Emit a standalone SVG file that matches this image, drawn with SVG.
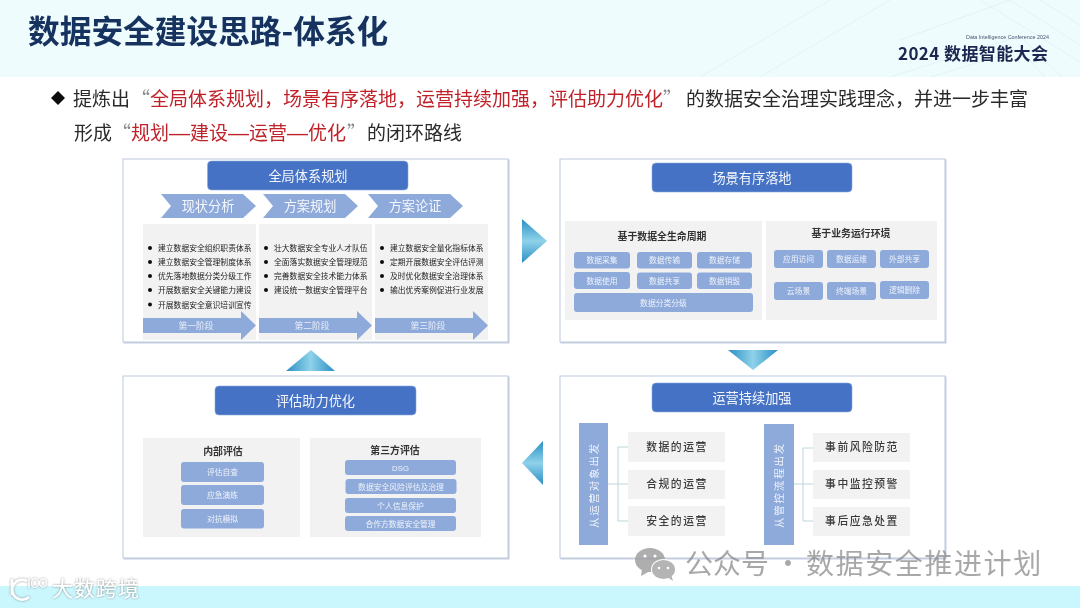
<svg xmlns="http://www.w3.org/2000/svg" width="1080" height="608" viewBox="0 0 1080 608">
<style>
text{font-family:"Noto Sans CJK SC","Noto Sans",sans-serif}
.panel{fill:#fff;stroke:#bcc9e2;stroke-width:1;filter:url(#ps)}
.title{fill:#4472c4;stroke:#8faadc;stroke-width:.6}
.tt{fill:#fff;font-size:13.2px;text-anchor:middle;opacity:.95}
.gray{fill:#f2f2f2}
.chip{fill:#8eaadb}
.ct{fill:#fff;font-size:7.8px;text-anchor:middle;opacity:.85}
.sh{fill:#8eaadb}
.st{fill:#fff;font-size:13.2px;text-anchor:middle;opacity:.9}
.sm{fill:#fff;font-size:8.8px;text-anchor:middle;opacity:.8}
.li{fill:#222;font-size:7.8px}
.dot{fill:#111}
.h{fill:#333;font-size:9.9px;font-weight:700;text-anchor:middle}
.it{fill:#3a3a3a;font-size:10.8px;text-anchor:middle;letter-spacing:1.5px;font-weight:500}
.vt{fill:#fff;font-size:10.4px;text-anchor:middle;letter-spacing:1.9px;opacity:.85}
.line{fill:none;stroke:#bdd6dc;stroke-width:1}
.body{font-size:19px;fill:#2b2b2b}
.red{fill:#c0242c}
.q{fill:#888}
.dash{fill:#c0242c;font-family:"Liberation Sans",sans-serif;font-size:21px}
.bg{fill:none;stroke:#e2f3f7;stroke-width:1}
</style>
<defs>
<filter id="ps" x="-2%" y="-2%" width="105%" height="105%"><feDropShadow dx="1" dy="1" stdDeviation="0.6" flood-color="#7f8fb0" flood-opacity=".45"/></filter>
<filter id="soft" x="0" y="0" width="100%" height="100%"><feGaussianBlur stdDeviation="0.35"/></filter>
<filter id="ws" x="-10%" y="-20%" width="120%" height="140%"><feDropShadow dx="0" dy="0" stdDeviation="1" flood-color="#555" flood-opacity=".7"/></filter>
<linearGradient id="gh" x1="0" x2="1" y1="0" y2="0"><stop offset="0" stop-color="#2a8fc4"/><stop offset=".5" stop-color="#8fd2ea"/><stop offset="1" stop-color="#2a8fc4"/></linearGradient>
<linearGradient id="gv" x1="0" x2="0" y1="0" y2="1"><stop offset="0" stop-color="#2a8fc4"/><stop offset=".5" stop-color="#8fd2ea"/><stop offset="1" stop-color="#2a8fc4"/></linearGradient>
</defs>
<g filter="url(#soft)">
<g id="background">
<rect width="1080" height="608" fill="#fff"/>
<rect width="1080" height="77" fill="#effcfe"/>
<rect y="586" width="1080" height="22" fill="#c9f7fd"/>
<path class="bg" d="M700 77L830 0M760 77L890 0M900 40L1010 0M890 77L1020 36L1062 77M930 77L1020 50L1045 77M1010 0L1080 45M1040 0L1080 25M980 0L1080 62"/>
<text x="28" y="43" font-size="31.7" font-weight="700" fill="#17305f">数据安全建设思路-体系化</text>
<text x="1049" y="39" font-size="5.4" fill="#4a5470" text-anchor="end" style="font-family:'Liberation Sans',sans-serif">Data Intelligence Conference 2024</text>
<text x="898" y="60" font-size="17" font-weight="700" fill="#1b2850" textLength="151" style="letter-spacing:1px">2024 数据智能大会</text>
<path d="M51 98L58 91L65 98L58 105Z" fill="#111"/>
<text y="106" class="body"><tspan x="73">提炼出</tspan><tspan class="q" x="131">“</tspan><tspan class="red" x="150">全局体系规划，场景有序落地，运营持续加强，评估助力优化</tspan><tspan class="q">”</tspan><tspan x="686">的数据安全治理实践理念，并进一步丰富</tspan></text>
<text y="140" class="body"><tspan x="74">形成</tspan><tspan class="q" x="112">“</tspan><tspan class="red" x="131">规划</tspan><tspan class="dash" x="169">—</tspan><tspan class="red" x="190">建设</tspan><tspan class="dash" x="228">—</tspan><tspan class="red" x="249">运营</tspan><tspan class="dash" x="287">—</tspan><tspan class="red" x="308">优化</tspan><tspan class="q" x="347">”</tspan><tspan x="367">的闭环路线</tspan></text>
</g>

<g id="panel-plan">
<rect class="panel" x="123" y="159" width="385" height="183"/>
<rect class="title" x="207.500" y="161" width="200.500" height="29" rx="4"/>
<text class="tt" x="308" y="181">全局体系规划</text>
<path class="sh" d="M161 194H243L256 206L243 218H161L171 206Z"/>
<path class="sh" d="M263 194H345L358 206L345 218H263L273 206Z"/>
<path class="sh" d="M368 194H450L463 206L450 218H368L378 206Z"/>
<text class="st" x="208" y="211">现状分析</text>
<text class="st" x="310" y="211">方案规划</text>
<text class="st" x="415" y="211">方案论证</text>
<rect class="gray" x="143" y="224" width="113" height="116"/>
<rect class="gray" x="259" y="224" width="113" height="116"/>
<rect class="gray" x="375" y="224" width="113" height="116"/>
<g class="dot">
<circle cx="150" cy="248" r="2"/><circle cx="150" cy="262" r="2"/><circle cx="150" cy="276" r="2"/><circle cx="150" cy="290" r="2"/><circle cx="150" cy="304.500" r="2"/>
<circle cx="266" cy="248" r="2"/><circle cx="266" cy="262" r="2"/><circle cx="266" cy="276" r="2"/><circle cx="266" cy="290" r="2"/>
<circle cx="382" cy="248" r="2"/><circle cx="382" cy="262" r="2"/><circle cx="382" cy="276" r="2"/><circle cx="382" cy="290" r="2"/>
</g>
<text class="li" x="158" y="251">建立数据安全组织职责体系</text>
<text class="li" x="158" y="265">建立数据安全管理制度体系</text>
<text class="li" x="158" y="279">优先落地数据分类分级工作</text>
<text class="li" x="158" y="293">开展数据安全关键能力建设</text>
<text class="li" x="158" y="307.500">开展数据安全意识培训宣传</text>
<text class="li" x="274" y="251">壮大数据安全专业人才队伍</text>
<text class="li" x="274" y="265">全面落实数据安全管理规范</text>
<text class="li" x="274" y="279">完善数据安全技术能力体系</text>
<text class="li" x="274" y="293">建设统一数据安全管理平台</text>
<text class="li" x="390" y="251">建立数据安全量化指标体系</text>
<text class="li" x="390" y="265">定期开展数据安全评估评测</text>
<text class="li" x="390" y="279">及时优化数据安全治理体系</text>
<text class="li" x="390" y="293">输出优秀案例促进行业发展</text>
<path class="sh" d="M143 318H241V311L256 325.500L241 340V333H143Z"/>
<path class="sh" d="M259 318H357V311L372 325.500L357 340V333H259Z"/>
<path class="sh" d="M375 318H473V311L488 325.500L473 340V333H375Z"/>
<text class="sm" x="196" y="329">第一阶段</text>
<text class="sm" x="312" y="329">第二阶段</text>
<text class="sm" x="428" y="329">第三阶段</text>
</g>

<g id="panel-scene">
<rect class="panel" x="560" y="159" width="385" height="183"/>
<rect class="title" x="652" y="163" width="200" height="29" rx="4"/>
<text class="tt" x="752" y="183">场景有序落地</text>
<rect class="gray" x="565" y="221" width="197" height="99"/>
<rect class="gray" x="766" y="221" width="171" height="99"/>
<text class="h" x="662" y="240">基于数据全生命周期</text>
<text class="h" x="851" y="237">基于业务运行环境</text>
<rect class="chip" x="574" y="252" width="56" height="16.500" rx="3"/><text class="ct" x="602" y="263">数据采集</text>
<rect class="chip" x="637" y="252" width="55" height="16.500" rx="3"/><text class="ct" x="664.500" y="263">数据传输</text>
<rect class="chip" x="697" y="252" width="55" height="16.500" rx="3"/><text class="ct" x="724.500" y="263">数据存储</text>
<rect class="chip" x="574" y="272" width="56" height="17" rx="3"/><text class="ct" x="602" y="284">数据使用</text>
<rect class="chip" x="637" y="272.500" width="55" height="16.500" rx="3"/><text class="ct" x="664.500" y="284">数据共享</text>
<rect class="chip" x="697" y="272.500" width="55" height="16.500" rx="3"/><text class="ct" x="724.500" y="284">数据销毁</text>
<rect class="chip" x="574" y="293" width="179" height="19" rx="3"/><text class="ct" x="663.500" y="306">数据分类分级</text>
<rect class="chip" x="774" y="250" width="49" height="18" rx="3"/><text class="ct" x="798.500" y="262">应用访问</text>
<rect class="chip" x="827" y="250" width="49" height="18" rx="3"/><text class="ct" x="851.500" y="262">数据运维</text>
<rect class="chip" x="880" y="250" width="49" height="18" rx="3"/><text class="ct" x="904.500" y="262">外部共享</text>
<rect class="chip" x="774" y="282" width="49" height="18" rx="3"/><text class="ct" x="798.500" y="294">云场景</text>
<rect class="chip" x="827" y="282" width="49" height="18" rx="3"/><text class="ct" x="851.500" y="294">终端场景</text>
<rect class="chip" x="880" y="281" width="49" height="18" rx="3"/><text class="ct" x="904.500" y="293">逻辑删除</text>
</g>

<g id="panel-ops">
<rect class="panel" x="560" y="376" width="385" height="182"/>
<rect class="title" x="652" y="383" width="200" height="29" rx="4"/>
<text class="tt" x="752" y="403">运营持续加强</text>
<rect class="chip" x="579" y="423" width="29" height="122"/>
<rect class="chip" x="764" y="424" width="30" height="121"/>
<text class="vt" transform="translate(597.500 485) rotate(-90)">从运营对象出发</text>
<text class="vt" transform="translate(782.500 485) rotate(-90)">从管控流程出发</text>
<rect class="gray" x="628" y="432" width="97" height="30"/><text class="it" x="677" y="451">数据的运营</text>
<rect class="gray" x="628" y="470" width="97" height="29"/><text class="it" x="677" y="488">合规的运营</text>
<rect class="gray" x="628" y="506" width="97" height="30"/><text class="it" x="677" y="525">安全的运营</text>
<rect class="gray" x="813" y="433" width="97" height="29"/><text class="it" x="862" y="451">事前风险防范</text>
<rect class="gray" x="813" y="470" width="97" height="29"/><text class="it" x="862" y="488">事中监控预警</text>
<rect class="gray" x="813" y="507" width="97" height="29"/><text class="it" x="862" y="525">事后应急处置</text>
</g>

<g id="panel-eval">
<rect class="panel" x="123" y="376" width="385" height="182"/>
<rect class="title" x="215" y="386" width="201" height="29" rx="4"/>
<text class="tt" x="315.500" y="406">评估助力优化</text>
<rect class="gray" x="143" y="438" width="157" height="99"/>
<rect class="gray" x="310" y="438" width="171" height="99"/>
<text class="h" x="223" y="455">内部评估</text>
<text class="h" x="395" y="454">第三方评估</text>
<rect class="chip" x="181" y="462" width="83" height="20" rx="3"/><text class="ct" x="222.500" y="475">评估自查</text>
<rect class="chip" x="181" y="485" width="83" height="20" rx="3"/><text class="ct" x="222.500" y="498">应急演练</text>
<rect class="chip" x="181" y="509" width="83" height="19.500" rx="3"/><text class="ct" x="222.500" y="522">对抗模拟</text>
<rect class="chip" x="345" y="460" width="111" height="15" rx="3"/><text class="ct" x="400.500" y="471" style="font-family:'Liberation Sans',sans-serif">DSG</text>
<rect class="chip" x="345.500" y="479" width="111" height="15" rx="3"/><text class="ct" x="401" y="490">数据安全风险评估及治理</text>
<rect class="chip" x="345" y="498" width="111" height="15" rx="3"/><text class="ct" x="400.500" y="509">个人信息保护</text>
<rect class="chip" x="345" y="516" width="111" height="15" rx="3"/><text class="ct" x="400.500" y="527">合作方数据安全管理</text>
</g>

<g id="connectors">
<path d="M522 219L547 241L522 263Z" fill="url(#gv)"/>
<path d="M728 350H778L753 370Z" fill="url(#gh)"/>
<path d="M543 441L522 463L543 485Z" fill="url(#gv)"/>
<path d="M286 371H335L311 350Z" fill="url(#gh)"/>
<path class="line" d="M608 484H628M618 447H628M618 447V521M618 521H628"/>
<path class="line" d="M794 484H813M803 448H813M803 448V521M803 521H813"/>
</g>

<g id="watermarks">
<g opacity=".85">
<ellipse cx="650" cy="560" rx="15" ry="12" fill="#a0a0a0"/><path d="M642 569L641 576L650 571Z" fill="#a0a0a0"/>
<ellipse cx="663.500" cy="569.500" rx="12.500" ry="10.500" fill="#fff"/>
<ellipse cx="663.500" cy="569.500" rx="11.500" ry="9.500" fill="#a8a8a8"/><path d="M667 577L673 581L671 574Z" fill="#a8a8a8"/>
<circle cx="645" cy="556" r="1.600" fill="#fff"/><circle cx="655" cy="556" r="1.600" fill="#fff"/>
<circle cx="659" cy="568" r="1.300" fill="#fff"/><circle cx="668" cy="568" r="1.300" fill="#fff"/>
</g>
<text y="574" font-size="28" fill="#808080" opacity=".68"><tspan x="685">公众号</tspan><tspan x="774">·</tspan><tspan x="806" style="letter-spacing:1.6px">数据安全推进计划</tspan></text>
<g filter="url(#ws)">
<path d="M12 579V595M27 581A10 10 0 1 0 29 597" fill="none" stroke="#fff" stroke-width="2.600"/>
<path d="M29 578V588" fill="none" stroke="#fff" stroke-width="1.200"/>
<ellipse cx="35" cy="583" rx="3.500" ry="4.500" fill="none" stroke="#fff" stroke-width="1.200"/>
<ellipse cx="43" cy="583" rx="3.500" ry="4" fill="none" stroke="#fff" stroke-width="1.200"/>
<text x="52" y="596" font-size="21" fill="#fff" style="letter-spacing:1px">大数跨境</text>
</g>
</g>
</g>
</svg>
